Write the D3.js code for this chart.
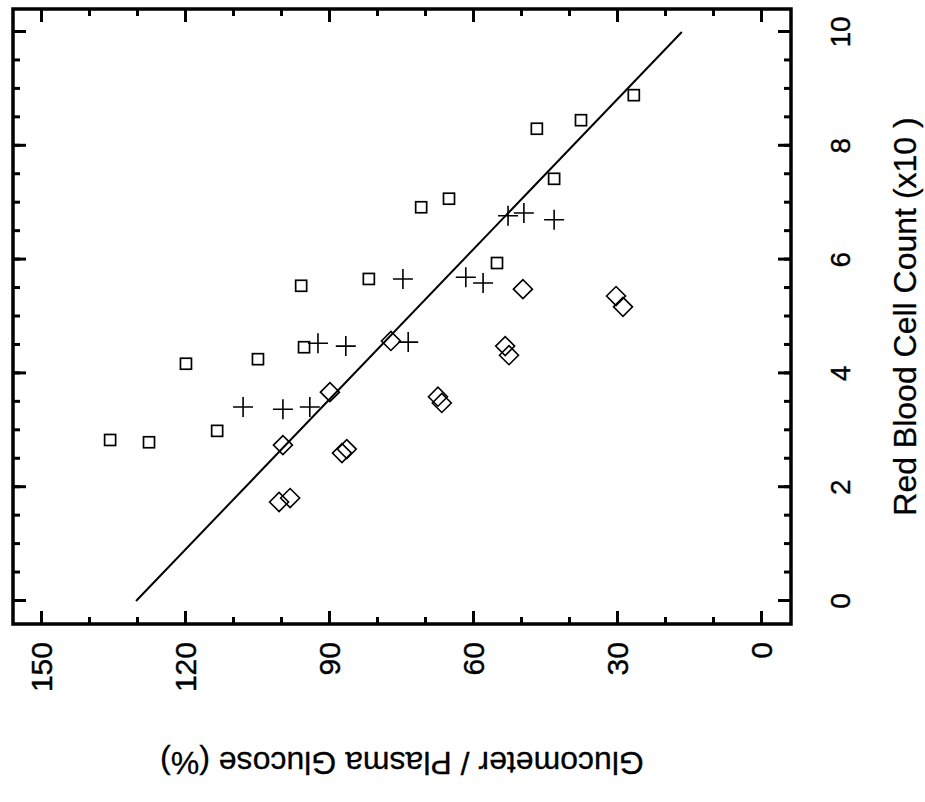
<!DOCTYPE html>
<html><head><meta charset="utf-8">
<script src="https://cdn.jsdelivr.net/npm/d3@7"></script>
<style>body{margin:0;background:#fff}svg{display:block}</style>
</head><body>
<svg id="chart" width="925" height="802"></svg>
<script>
// ---- data (RBC count, glucometer/plasma glucose %) ----
const rbcTicks = [0, 2, 4, 6, 8, 10];
const glucoseTicks = [0, 30, 60, 90, 120, 150];
const rbcMinorTicks = [0,0.5,1,1.5,2,2.5,3,3.5,4,4.5,5,5.5,6,6.5,7,7.5,8,8.5,9,9.5,10];
const glucoseMinorTicks = [0,10,20,30,40,50,60,70,80,90,100,110,120,130,140,150];

const squares = [
  [2.83,135.6],[2.79,127.5],[2.99,113.3],[4.17,119.8],[4.25,104.8],[4.46,95.2],
  [5.54,95.8],[5.66,81.7],[6.92,70.8],[7.07,65.0],[5.94,55.0],[8.30,46.7],
  [7.42,43.1],[8.45,37.5],[8.89,26.5]
];
const pluses = [
  [3.41,107.9],[3.37,99.6],[3.41,94.0],[4.53,92.3],[4.48,86.5],[4.55,73.5],
  [5.66,74.6],[5.69,61.5],[5.59,57.9],[6.77,52.7],[6.82,49.4],[6.70,43.1]
];
const diamonds = [
  [1.74,100.4],[1.81,98.1],[2.74,99.6],[2.60,87.3],[2.67,86.3],[3.67,89.8],
  [4.57,77.1],[3.59,67.3],[3.48,66.5],[4.48,53.3],[4.32,52.5],[5.48,49.6],
  [5.36,30.2],[5.17,28.75]
];
const fitLine = [[0,130.2],[10,16.5]];

const xTitle = "Red Blood Cell Count (x10 )";
const yTitle = "Glucometer / Plasma Glucose (%)";

// ---- drawing (chart built upright, then rotated 90° counter-clockwise) ----
const svg = d3.select("#chart");
const g = svg.append("g").attr("transform","translate(0,802) rotate(-90)");
const font = "'Liberation Sans', Arial, Helvetica, sans-serif";

const frame = {left:178, right:793, top:13, bottom:791};
const x = d3.scaleLinear().domain([0,10]).range([201,770]);
const y = d3.scaleLinear().domain([0,150]).range([761,41]);

function tickAxis(axisFn, scale, ticks, size, pos, isX){
  const ax = axisFn(scale).tickValues(ticks).tickSize(-size).tickFormat("");
  const sel = g.append("g")
    .attr("transform", isX ? `translate(0,${pos})` : `translate(${pos},0)`)
    .call(ax);
  sel.select(".domain").remove();
  sel.selectAll("line").attr("stroke","#000").attr("stroke-width",3);
}
// major + minor ticks, inward on all four sides
tickAxis(d3.axisBottom, x, rbcMinorTicks, 7, frame.bottom, true);
tickAxis(d3.axisBottom, x, rbcTicks, 13, frame.bottom, true);
tickAxis(d3.axisTop, x, rbcMinorTicks, 7, frame.top, true);
tickAxis(d3.axisTop, x, rbcTicks, 13, frame.top, true);
tickAxis(d3.axisLeft, y, glucoseMinorTicks, 7, frame.left, false);
tickAxis(d3.axisLeft, y, glucoseTicks, 13, frame.left, false);
tickAxis(d3.axisRight, y, glucoseMinorTicks, 7, frame.right, false);
tickAxis(d3.axisRight, y, glucoseTicks, 13, frame.right, false);

g.append("rect")
  .attr("x",frame.left).attr("y",frame.top)
  .attr("width",frame.right-frame.left).attr("height",frame.bottom-frame.top)
  .attr("fill","none").attr("stroke","#000").attr("stroke-width",3.5);

// tick labels
g.append("g").selectAll("text").data(rbcTicks).join("text")
  .attr("x", d => x(d)).attr("y", 850)
  .attr("text-anchor","middle")
  .attr("font-family",font).attr("font-size",28)
  .attr("stroke","#000").attr("stroke-width",0.4)
  .text(d => d);

g.append("g").selectAll("text").data(glucoseTicks).join("text")
  .attr("x",160).attr("y", d => y(d)).attr("dy","0.36em")
  .attr("text-anchor","end")
  .attr("font-family",font).attr("font-size",30)
  .attr("stroke","#000").attr("stroke-width",0.4)
  .text(d => d);

// axis titles
g.append("text")
  .attr("x",(frame.left+frame.right)/2).attr("y",916)
  .attr("text-anchor","middle")
  .attr("font-family",font).attr("font-size",32)
  .attr("stroke","#000").attr("stroke-width",0.3)
  .text(xTitle);
g.append("text")
  .attr("transform",`translate(50,${(frame.top+frame.bottom)/2}) rotate(-90)`)
  .attr("text-anchor","middle")
  .attr("font-family",font).attr("font-size",32)
  .attr("stroke","#000").attr("stroke-width",0.3)
  .text(yTitle);

// regression line
g.append("path")
  .datum(fitLine)
  .attr("d", d3.line().x(d => x(d[0])).y(d => y(d[1])))
  .attr("fill","none").attr("stroke","#000").attr("stroke-width",2);

// markers
g.append("g").selectAll("rect").data(squares).join("rect")
  .attr("x", d => x(d[0]) - 5.5).attr("y", d => y(d[1]) - 5.5)
  .attr("width",11).attr("height",11)
  .attr("fill","none").attr("stroke","#000").attr("stroke-width",1.7);

g.append("g").selectAll("path").data(pluses).join("path")
  .attr("d", d => { const cx = x(d[0]), cy = y(d[1]);
    return `M${cx-10},${cy}H${cx+10}M${cx},${cy-10}V${cy+10}`; })
  .attr("fill","none").attr("stroke","#000").attr("stroke-width",1.6);

g.append("g").selectAll("path").data(diamonds).join("path")
  .attr("d", d => { const cx = x(d[0]), cy = y(d[1]), r = 9.5;
    return `M${cx},${cy-r}L${cx+r},${cy}L${cx},${cy+r}L${cx-r},${cy}Z`; })
  .attr("fill","none").attr("stroke","#000").attr("stroke-width",1.6);
</script>
</body></html>
